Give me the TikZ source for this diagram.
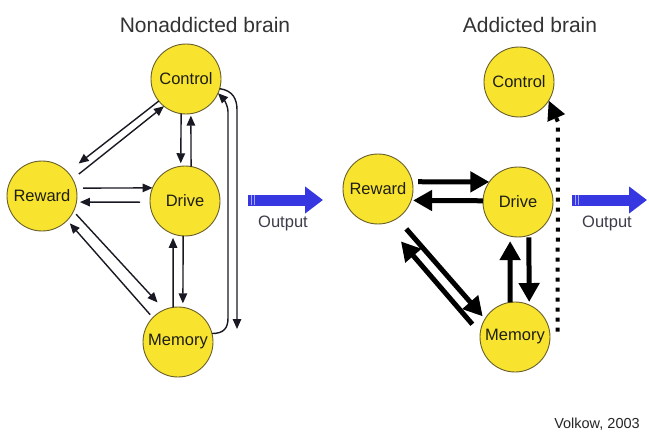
\documentclass[tikz,border=0pt]{standalone}
\usepackage{fontspec}
\setmainfont{Liberation Sans}
\usetikzlibrary{arrows.meta,calc}
\definecolor{nodefill}{RGB}{248,228,46}
\definecolor{nodeedge}{RGB}{105,95,40}
\definecolor{labelcol}{RGB}{30,30,20}
\definecolor{arrcol}{RGB}{25,25,35}
\definecolor{outblue}{RGB}{55,55,225}
\definecolor{outtext}{RGB}{60,60,75}
\tikzset{
  nd/.style={circle, draw=nodeedge, fill=nodefill, line width=0.9pt,
    minimum size=70pt, inner sep=0pt, outer sep=0pt,
    font=\fontsize{16.5}{16.5}\selectfont, text=labelcol},
  thinarr/.style={draw=arrcol, line width=1.4pt, -{Triangle[length=10pt,width=8.5pt]}},
  thickarr/.style={draw=black, line width=5pt, -{Triangle[length=19pt,width=20pt]}},
  dotarr/.style={draw=black, line width=4pt, dash pattern=on 4pt off 6pt,
    -{Triangle[length=19pt,width=18pt]}},
  outarr/.style={draw=outblue, line width=11pt, -{Triangle[length=18pt,width=26pt]}},
  title/.style={font=\fontsize{21}{21}\selectfont, text=black!80},
  outlabel/.style={font=\fontsize{16.5}{16.5}\selectfont, text=outtext},
  credit/.style={font=\fontsize{14.5}{14.5}\selectfont, text=black!85}
}
\begin{document}
\begin{tikzpicture}[x=1pt,y=1pt]
\useasboundingbox[fill=white] (0,0) rectangle (649,-436);

% titles
\node[title] (t1) at (205,-25) {Nonaddicted brain};
\node[title] (t2) at (530,-25) {Addicted brain};

% ---------- left: nonaddicted ----------
\node[nd] (C1) at (186,-79) {Control};
\node[nd] (R1) at (42,-196) {Reward};
\node[nd] (D1) at (185,-201) {Drive};
\node[nd] (M1) at (178,-342) {Memory};

\draw[thinarr, shorten >=14pt] (C1.219) -- (R1.43);
\draw[thinarr, shorten <=8pt] (R1.29) -- (C1.231);
\draw[thinarr, shorten <=7pt] (R1.13) -- (D1.158);
\draw[thinarr, shorten <=10pt, shorten >=3.5pt] (D1.182) -- (R1.350);
\draw[thinarr, shorten >=3pt] (C1.262) -- (D1.97);
\draw[thinarr, shorten >=2pt] (D1.80) -- (C1.278);
\draw[thinarr, shorten >=4pt] (M1.98) -- (D1.250);
\draw[thinarr, shorten >=4pt] (D1.267) -- (M1.82);
\draw[thinarr, shorten <=4pt, shorten >=10pt] (R1.-26) -- (M1.113);
\draw[thinarr, shorten <=4pt, shorten >=4pt] (M1.136) -- (R1.-44);

% bracket Control <-> Memory
\coordinate (bk) at (237,-329);
\draw[thinarr] (M1.14) .. controls +(12,0) and +(0,-10) .. (228,-318)
  -- (228,-112) .. controls +(0,8) and +(4,-4) .. (C1.-24);
\draw[thinarr] (C1.-16) .. controls +(14,-2) and +(0,10) .. (237,-110)
  -- (bk);

% output
\coordinate (o1a) at (248,-200);
\coordinate (o1b) at (323,-200);
\draw[outarr] (o1a) -- (o1b);
\foreach \xx in {251,254.5} \draw[white, opacity=0.55, line width=0.9pt] (\xx,-195) -- (\xx,-205);
\node[outlabel] (ol1) at (283,-223) {Output};

% ---------- right: addicted ----------
\node[nd] (C2) at (519,-82) {Control};
\node[nd] (R2) at (378,-189) {Reward};
\node[nd] (D2) at (518,-202) {Drive};
\node[nd] (M2) at (515,-337) {Memory};

\draw[thickarr, shorten <=6pt] (R2.12) -- (D2.145);
\draw[thickarr, shorten >=2pt] (D2.178) -- (R2.-19);
\draw[thickarr, shorten <=14pt, shorten >=3.5pt] (R2.-57) -- (M2.149);
\draw[thickarr, shorten <=12pt, shorten >=24pt] (M2.174) -- (R2.-78);
\draw[thickarr, shorten >=5pt] (M2.98) -- (D2.257);
\draw[thickarr, shorten <=2pt, shorten >=3pt] (D2.288) -- (M2.66);
\draw[dotarr] ([xshift=8pt]M2.9) -- (558,-122) -- (C2.-32);

\coordinate (o2a) at (572,-200);
\coordinate (o2b) at (647,-200);
\draw[outarr] (o2a) -- (o2b);
\foreach \xx in {575,578.5} \draw[white, opacity=0.55, line width=0.9pt] (\xx,-195) -- (\xx,-205);
\node[outlabel] (ol2) at (607,-223) {Output};

\node[credit] (cr) at (597,-424) {Volkow, 2003};
\end{tikzpicture}
\end{document}
